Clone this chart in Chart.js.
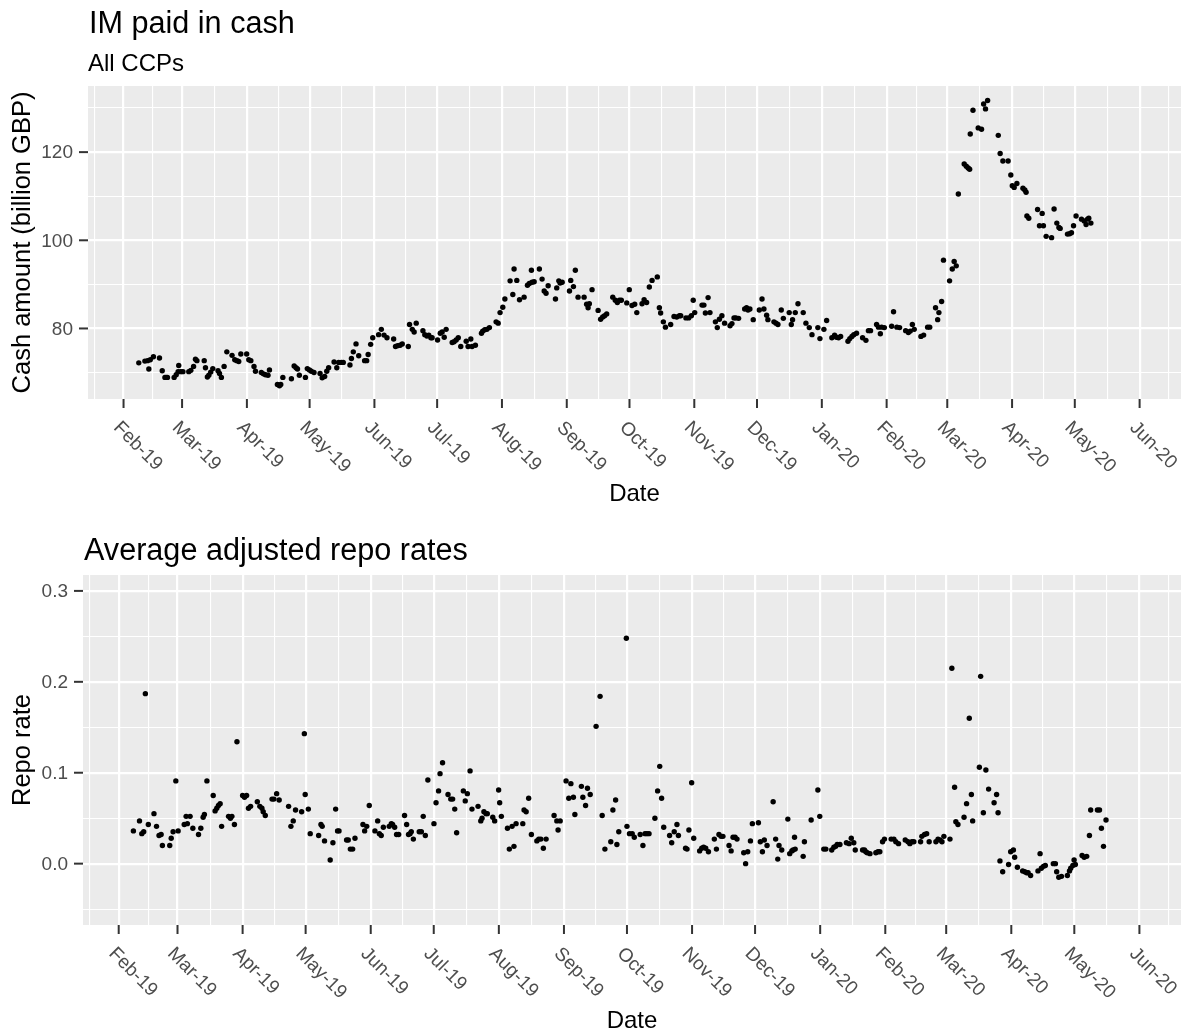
<!DOCTYPE html>
<html>
<head>
<meta charset="utf-8">
<script src="https://cdn.jsdelivr.net/npm/chart.js@4.4.1/dist/chart.umd.min.js"></script>
<style>
  body { margin: 0; background: #fff; }
  #wrap { position: relative; width: 1193px; height: 1034px; }
  canvas { position: absolute; left: 0; }
</style>
</head>
<body>
<div id="wrap">
  <canvas id="cashChart" width="1193" height="517" style="top:0"></canvas>
  <canvas id="repoChart" width="1193" height="517" style="top:517px"></canvas>
</div>
<script>
// month labels on the date axis
var monthLabels = ['Feb-19', 'Mar-19', 'Apr-19', 'May-19', 'Jun-19', 'Jul-19', 'Aug-19', 'Sep-19',
  'Oct-19', 'Nov-19', 'Dec-19', 'Jan-20', 'Feb-20', 'Mar-20', 'Apr-20', 'May-20', 'Jun-20'];

var cashTicks = [80, 100, 120];
var repoTicks = [0.0, 0.1, 0.2, 0.3];

// dates are days counted from 1 Feb 2019
var cashDays = [
  7.3, 10.2, 11.5, 12.1, 12.8, 14.3, 17.2, 18.5, 19.8, 20.4, 21.0, 24.2, 25.2, 26.1, 26.4, 27.4, 28.4, 31.2, 32.2, 33.5,
  34.4, 35.1, 38.6, 39.2, 40.1, 40.8, 41.7, 42.7, 45.2, 45.9, 46.8, 48.1, 49.4, 51.9, 53.2, 54.2, 55.1, 56.1, 58.9, 59.9,
  60.9, 62.4, 63.1, 65.9, 66.9, 67.9, 69.1, 69.8, 73.6, 74.6, 75.2, 76.2, 80.3, 81.6, 82.5, 83.2, 84.1, 87.0, 87.9, 88.9,
  89.8, 91.1, 94.0, 95.0, 96.2, 97.2, 98.1, 100.7, 102.0, 102.9, 104.2, 105.1, 108.3, 109.0, 109.9, 111.2, 112.5, 115.3, 116.3, 117.0,
  118.2, 119.2, 122.0, 123.3, 124.6,
  126.0, 129.2, 130.1, 131.1, 132.3, 133.3, 136.2, 136.8, 138.1, 139.0, 140.0, 143.2, 144.1, 145.1, 146.0, 147.0, 147.6, 150.2, 151.5, 152.4,
  153.4, 154.3, 157.2, 158.1, 159.1, 160.1, 161.3, 163.9, 164.8, 166.1, 166.7, 168.3, 171.2, 171.8, 172.8, 173.8, 175.0, 178.2, 179.2, 180.1,
  181.4, 182.4, 184.9, 186.2, 186.8, 188.1, 189.4, 191.6, 193.2, 194.1, 195.1, 195.4, 196.4, 198.9, 200.2, 201.2, 202.1, 203.1, 206.6, 207.2,
  208.2, 208.8, 209.8, 213.3, 213.9, 215.2, 216.1, 217.4, 220.3, 221.5, 222.2, 222.8, 224.1, 227.0, 228.2, 229.2, 230.1, 231.1, 234.0, 235.2,
  236.2, 237.2, 238.1, 240.7, 241.9,
  243.2, 244.5, 245.5, 248.0, 249.0, 250.2, 251.5, 252.8, 255.3, 256.3, 256.9, 258.2, 259.2, 261.7, 263.3, 264.6, 265.9, 266.5, 269.0, 270.3,
  271.6, 272.5, 273.2, 276.7, 277.6, 278.3, 279.6, 280.5, 283.1, 284.0, 285.0, 286.2, 287.5, 290.1, 291.0, 292.0, 292.9, 294.2, 297.1, 298.0,
  298.7, 299.6, 301.2, 304.1, 305.4, 306.3, 307.6, 308.2, 311.1, 312.1, 313.0, 314.6, 315.6, 318.4, 319.4, 320.0, 321.3, 322.6, 325.1, 326.4,
  328.0, 329.3, 332.1, 333.1, 335.0, 336.3, 338.8, 340.1, 341.0, 342.0, 343.0, 346.5, 347.4, 348.4, 349.3, 350.6, 353.5, 355.1, 356.3, 357.3,
  360.2, 361.1,
  362.0, 362.6, 363.9, 367.4, 368.3, 369.9, 371.2, 374.1, 375.4, 376.3, 377.3, 378.2, 381.4, 382.7, 384.6, 385.6, 388.4, 389.4, 390.0, 391.3,
  392.2, 395.1, 396.4, 397.3, 398.3, 399.3, 402.1, 403.1, 404.0, 404.7, 405.0, 406.3, 408.8, 410.4, 411.4, 412.3, 413.3, 418.4, 419.3, 420.6,
  423.1, 424.4, 425.1, 426.0, 427.3, 430.2, 431.1, 431.7, 432.1, 433.0, 437.2, 438.1, 439.4, 440.0, 441.3, 443.9, 445.1, 446.4, 447.4, 448.0,
  451.5, 452.5, 453.4, 454.4, 455.6, 458.2, 459.5, 460.4, 461.1, 461.7, 462.7
];
var cashValues = [
  72.2, 72.6, 72.7, 70.8, 72.9, 73.6, 73.3, 70.4, 68.9, 68.9, 68.9, 68.9, 69.5, 70.2, 71.6, 70.2, 70.2, 70.2, 70.5, 71.4,
  73.0, 72.7, 72.7, 71.1, 69.0, 69.4, 70.1, 70.9, 70.4, 69.8, 68.9, 71.4, 74.7, 73.9, 72.9, 72.7, 72.5, 74.2, 74.2, 72.9,
  72.7, 71.4, 70.3, 70.0, 69.7, 69.5, 69.4, 70.6, 67.3, 67.0, 67.3, 68.9, 68.6, 71.5, 71.1, 70.8, 69.4, 68.9, 70.9, 70.6,
  70.3, 70.0, 69.8, 68.8, 69.1, 70.3, 71.1, 72.4, 71.1, 72.3, 72.3, 72.3, 71.7, 73.2, 74.7, 76.5, 73.8, 72.7, 72.7, 74.1,
  76.4, 77.9, 78.6, 79.8, 78.5,
  77.9, 77.6, 75.9, 76.1, 76.2, 76.5, 75.9, 80.9, 79.8, 79.2, 81.2, 79.5, 78.6, 78.3, 78.5, 77.9, 77.9, 77.4, 78.9, 79.2,
  78.0, 79.8, 76.8, 77.0, 77.4, 77.9, 75.9, 77.1, 75.9, 77.6, 75.9, 76.2, 78.9, 79.4, 79.7, 79.8, 80.2, 81.5, 81.2, 83.6,
  84.8, 86.7, 90.8, 87.7, 93.5, 90.9, 86.5, 87.1, 89.8, 90.2, 93.2, 90.5, 90.6, 93.5, 91.2, 88.5, 88.0, 89.7, 86.7, 89.2,
  90.8, 90.3, 90.5, 88.5, 90.9, 89.5, 93.2, 87.1, 87.1, 85.5, 84.7, 85.6, 88.8, 84.1, 82.1, 82.6, 82.9, 83.3, 87.1, 86.4,
  85.9, 86.4, 86.4, 85.8, 88.8,
  85.2, 85.5, 83.6, 85.6, 86.5, 85.9, 89.4, 90.9, 91.7, 84.7, 83.5, 81.5, 80.3, 80.9, 82.7, 82.6, 82.9, 82.9, 82.4, 82.4,
  82.9, 86.4, 83.6, 85.3, 85.3, 83.5, 87.0, 83.6, 81.5, 80.2, 82.1, 82.9, 81.2, 80.6, 81.1, 82.4, 82.4, 82.3, 84.4, 84.7,
  84.2, 84.4, 82.0, 84.2, 86.7, 84.4, 83.0, 82.0, 81.5, 81.2, 80.9, 84.2, 82.3, 83.6, 80.9, 82.0, 83.6, 85.6, 83.6, 81.2,
  80.2, 78.6, 80.2, 77.7, 79.8, 81.8, 77.9, 78.5, 78.0, 77.9, 78.2, 77.1, 77.7, 78.2, 78.6, 78.9, 77.9, 77.3, 79.5, 79.5,
  80.9, 80.3,
  78.8, 80.3, 80.2, 80.5, 83.8, 80.3, 80.2, 79.5, 79.1, 79.4, 80.9, 79.8, 78.2, 78.5, 80.3, 80.3, 84.7, 82.0, 83.6, 86.1,
  95.5, 90.8, 93.5, 95.2, 94.2, 110.5, 117.3, 116.8, 116.4, 116.1, 124.1, 129.5, 125.5, 125.2, 130.9, 129.8, 131.7, 123.8, 119.7, 118.0,
  118.0, 114.8, 112.4, 112.0, 112.9, 111.8, 111.4, 110.9, 105.5, 105.0, 107.0, 103.3, 106.1, 103.3, 100.9, 100.6, 107.1, 103.9, 102.9, 102.7,
  101.4, 101.5, 101.7, 103.3, 105.5, 104.8, 104.4, 103.6, 104.8, 105.0, 103.9
];

var repoDays = [
  7.0, 9.9, 11.0, 11.9, 12.7, 14.1, 16.8, 18.0, 19.2, 20.2, 20.8, 24.3, 25.0, 25.9, 27.2, 28.3, 31.2, 32.1, 32.7, 34.0,
  35.3, 38.0, 39.1, 40.2, 40.8, 42.0, 45.0, 45.9, 46.7, 47.5, 48.3, 49.0, 52.3, 53.2, 53.9, 55.1, 56.3, 59.0, 59.9, 60.9,
  61.8, 62.8, 66.0, 67.2, 68.2, 68.8, 69.8, 73.0, 73.9, 75.2, 76.4, 80.9, 82.0, 83.1, 84.2, 87.1, 88.4, 88.8, 90.3, 91.2,
  95.2, 96.3, 96.9, 98.0, 100.7, 102.0, 103.3, 104.2, 104.9, 108.5, 109.3, 110.3, 111.4, 112.5, 116.3, 117.1, 118.1, 119.3, 122.0, 123.3,
  124.1,
  125.0, 126.0, 128.8, 129.8, 130.4, 131.4, 132.3, 133.3, 136.1, 137.1, 138.0, 138.7, 139.3, 140.3, 143.1, 144.1, 145.0, 146.0, 147.2, 150.1,
  151.1, 152.3, 153.0, 154.2, 156.8, 158.1, 159.0, 160.0, 160.9, 164.1, 165.0, 166.0, 167.3, 168.2, 171.1, 172.4, 173.0, 173.9, 174.9, 175.5,
  178.1, 179.0, 180.9, 181.4, 182.2, 185.1, 186.0, 187.3, 188.2, 189.2, 192.4, 193.0, 194.0, 195.2, 196.5, 199.1, 200.0, 201.0, 202.2, 203.5,
  207.3, 208.6, 209.2, 210.2, 213.0, 214.3, 215.3, 216.5, 217.2, 220.3, 221.0, 222.3, 223.2, 224.5, 227.3, 229.2, 230.2, 231.5, 234.3, 235.3,
  236.6, 237.2, 238.1, 241.7, 242.0, 243.2,
  244.5, 245.5, 248.3, 249.6, 250.6, 251.5, 252.5, 255.3, 256.6, 257.6, 258.5, 259.5, 262.3, 263.3, 264.5, 265.8, 266.5, 269.9, 270.6, 271.5,
  272.8, 273.8, 276.6, 277.6, 278.5, 279.5, 280.8, 283.6, 284.6, 285.8, 286.8, 287.7, 290.6, 291.6, 292.5, 293.5, 294.4, 297.6, 298.5, 299.5,
  300.8, 301.7, 304.6, 305.5,
  306.5, 307.4, 308.7, 311.6, 312.8, 313.8, 314.4, 315.7, 318.6, 319.5, 320.5, 321.1, 321.8, 322.1, 325.9, 326.5, 329.7, 332.9, 333.8, 335.7,
  336.7, 339.5, 340.5, 341.4, 342.1, 343.4, 346.5, 347.8, 348.8, 350.0, 350.7, 354.2, 355.1, 355.7, 356.4, 357.7, 360.5, 361.5, 362.4, 363.7,
  364.6, 367.8, 369.1, 370.0, 371.3, 374.5, 375.8, 376.7, 377.7, 378.6, 381.8, 382.4, 383.7, 384.7, 385.9, 389.1, 390.1, 391.0,
  392.0, 392.9, 395.8, 396.7, 398.0, 398.6, 399.6, 402.5, 403.7, 405.0, 406.0, 406.6, 409.8, 410.4, 411.7, 412.9, 414.2, 416.8, 418.0, 418.7,
  419.6, 420.9, 423.7, 424.7, 426.0, 426.6, 427.9, 430.4, 431.4, 432.3, 433.0, 434.2, 437.7, 438.7, 439.3, 440.3, 441.2, 445.0, 446.0, 446.6,
  447.6, 448.9, 451.7, 452.7, 453.3, 454.3, 454.9, 455.5, 458.7, 459.7, 460.9, 462.2, 462.8, 466.0, 467.0, 467.9, 468.9, 470.1
];
var repoValues = [
  0.036, 0.047, 0.033, 0.035, 0.187, 0.043, 0.055, 0.041, 0.031, 0.032, 0.020, 0.020, 0.028, 0.035, 0.091, 0.036, 0.043, 0.052, 0.044, 0.052,
  0.039, 0.032, 0.039, 0.051, 0.054, 0.091, 0.075, 0.058, 0.061, 0.064, 0.066, 0.041, 0.052, 0.050, 0.052, 0.043, 0.134, 0.075, 0.073, 0.075,
  0.061, 0.063, 0.068, 0.063, 0.061, 0.057, 0.053, 0.071, 0.071, 0.077, 0.070, 0.063, 0.041, 0.047, 0.059, 0.057, 0.143, 0.076, 0.060, 0.033,
  0.031, 0.043, 0.041, 0.025, 0.004, 0.023, 0.060, 0.036, 0.036, 0.026, 0.026, 0.016, 0.016, 0.028, 0.043, 0.036, 0.041, 0.064, 0.036, 0.047,
  0.033,
  0.031, 0.040, 0.041, 0.044, 0.043, 0.040, 0.032, 0.032, 0.053, 0.043, 0.032, 0.033, 0.035, 0.027, 0.035, 0.035, 0.052, 0.031, 0.092, 0.044,
  0.067, 0.080, 0.099, 0.111, 0.076, 0.071, 0.071, 0.060, 0.034, 0.080, 0.069, 0.077, 0.102, 0.060, 0.063, 0.047, 0.050, 0.057, 0.055, 0.055,
  0.051, 0.047, 0.081, 0.067, 0.052, 0.039, 0.016, 0.041, 0.019, 0.044, 0.044, 0.059, 0.057, 0.072, 0.032, 0.025, 0.027, 0.027, 0.017, 0.027,
  0.053, 0.047, 0.037, 0.047, 0.091, 0.072, 0.088, 0.073, 0.054, 0.085, 0.073, 0.064, 0.083, 0.076, 0.151, 0.184, 0.053, 0.016, 0.024, 0.059,
  0.070, 0.021, 0.035, 0.248, 0.041, 0.033,
  0.033, 0.029, 0.032, 0.020, 0.033, 0.033, 0.033, 0.050, 0.080, 0.107, 0.072, 0.040, 0.031, 0.023, 0.035, 0.043, 0.031, 0.017, 0.016, 0.037,
  0.089, 0.028, 0.014, 0.017, 0.018, 0.017, 0.013, 0.027, 0.016, 0.032, 0.030, 0.030, 0.020, 0.014, 0.029, 0.029, 0.027, 0.012, 0.000, 0.013,
  0.025, 0.044, 0.045, 0.024,
  0.013, 0.026, 0.020, 0.068, 0.027, 0.005, 0.020, 0.015, 0.049, 0.011, 0.014, 0.015, 0.029, 0.016, 0.008, 0.024, 0.048, 0.081, 0.052, 0.016,
  0.016, 0.015, 0.018, 0.019, 0.021, 0.021, 0.023, 0.022, 0.028, 0.023, 0.015, 0.015, 0.015, 0.013, 0.012, 0.011, 0.012, 0.013, 0.013, 0.024,
  0.027, 0.027, 0.027, 0.024, 0.022, 0.026, 0.024, 0.022, 0.024, 0.024, 0.024, 0.030, 0.032, 0.033, 0.024, 0.024, 0.027, 0.026,
  0.024, 0.030, 0.027, 0.215, 0.084, 0.046, 0.043, 0.051, 0.066, 0.160, 0.076, 0.047, 0.106, 0.206, 0.056, 0.103, 0.082, 0.067, 0.076, 0.056,
  0.003, -0.009, -0.001, 0.013, 0.015, 0.007, -0.004, -0.008, -0.009, -0.010, -0.010, -0.013, -0.008, 0.011, -0.005, -0.003, -0.002, 0.000, 0.000, -0.009,
  -0.015, -0.014, -0.013, -0.008, -0.005, -0.002, 0.004, -0.001, 0.009, 0.007, 0.008, 0.031, 0.059, 0.059, 0.059, 0.039, 0.019, 0.048
];

var FONT = '"Liberation Sans", Arial, sans-serif';
var DAY = 86400000;
var monthDays = monthLabels.map(function (l, i) {
  return (Date.UTC(2019, 1 + i, 1) - Date.UTC(2019, 1, 1)) / DAY;
});

// ggplot style minor breaks: half way between the major ones
function minorsOf(b) {
  var bd = b[1] - b[0];
  var ext = [b[0] - bd].concat(b, [b[b.length - 1] + bd]);
  var out = [];
  for (var i = 0; i < ext.length - 1; i++) out.push((ext[i] + ext[i + 1]) / 2);
  return out;
}

function axisOpts(min, max, majors) {
  var list = majors.map(function (v) { return { value: v, minor: false }; })
    .concat(minorsOf(majors).map(function (v) { return { value: v, minor: true }; }))
    .filter(function (t) { return t.value >= min && t.value <= max; })
    .sort(function (p, q) { return p.value - q.value; });
  return {
    type: 'linear', min: min, max: max,
    border: { display: false },
    ticks: { display: false },
    grid: {
      drawTicks: false,
      color: '#FFFFFF',
      lineWidth: function (c) { return (c.tick && c.tick.minor) ? 1.1 : 2.2; }
    },
    afterBuildTicks: function (axis) {
      axis.ticks = list.map(function (t) { return { value: t.value, minor: t.minor }; });
    }
  };
}

var ggPlugin = {
  id: 'gg',
  beforeDraw: function (chart) {
    var a = chart.chartArea, ctx = chart.ctx;
    ctx.save();
    ctx.fillStyle = '#EBEBEB';
    ctx.fillRect(a.left, a.top, a.right - a.left, a.bottom - a.top);
    ctx.restore();
  },
  afterDraw: function (chart, args, o) {
    var ctx = chart.ctx, a = chart.chartArea;
    var xs = chart.scales.x, ys = chart.scales.y;
    ctx.save();
    ctx.strokeStyle = '#333333';
    ctx.lineWidth = 2;
    ctx.fillStyle = '#4D4D4D';
    ctx.font = '19px ' + FONT;

    // y ticks
    ctx.textAlign = 'right';
    ctx.textBaseline = 'middle';
    o.yTicks.forEach(function (v) {
      var y = ys.getPixelForValue(v);
      ctx.beginPath(); ctx.moveTo(a.left - 9, y); ctx.lineTo(a.left, y); ctx.stroke();
      ctx.fillText(o.yFmt(v), a.left - 15, y + 1);
    });

    // x ticks, labels turned down to the right
    ctx.textAlign = 'left';
    ctx.textBaseline = 'alphabetic';
    monthDays.forEach(function (d, i) {
      var x = xs.getPixelForValue(d);
      ctx.beginPath(); ctx.moveTo(x, a.bottom); ctx.lineTo(x, a.bottom + 9); ctx.stroke();
      ctx.save();
      ctx.translate(x - 10.7, a.bottom + 29.6);
      ctx.rotate(Math.PI / 4);
      ctx.fillText(monthLabels[i], 0, 0);
      ctx.restore();
    });

    // titles
    ctx.fillStyle = '#000000';
    ctx.font = '30.6px ' + FONT;
    ctx.fillText(o.title, a.left + 1, o.titleY);
    if (o.subtitle) {
      ctx.font = '24px ' + FONT;
      ctx.fillText(o.subtitle, a.left, o.subtitleY);
    }
    ctx.font = '24px ' + FONT;
    ctx.textAlign = 'center';
    ctx.fillText('Date', (a.left + a.right) / 2, o.xTitleY);
    ctx.font = '25.5px ' + FONT;
    ctx.save();
    ctx.translate(o.yTitleX, (a.top + a.bottom) / 2);
    ctx.rotate(-Math.PI / 2);
    ctx.fillText(o.yTitle, 0, 0);
    ctx.restore();
    ctx.restore();
  }
};

function buildChart(id, days, values, cfg) {
  return new Chart(document.getElementById(id), {
    type: 'scatter',
    data: {
      datasets: [{
        data: days.map(function (d, i) { return { x: d, y: values[i] }; }),
        pointRadius: 2.7,
        pointHoverRadius: 2.7,
        backgroundColor: '#000000',
        borderColor: '#000000',
        borderWidth: 0
      }]
    },
    options: {
      responsive: false,
      animation: false,
      events: [],
      layout: { padding: cfg.pad },
      plugins: { legend: { display: false }, tooltip: { enabled: false }, gg: cfg },
      scales: {
        x: axisOpts(-17, 505.8, monthDays),
        y: axisOpts(cfg.yMin, cfg.yMax, cfg.yTicks)
      }
    },
    plugins: [ggPlugin]
  });
}

buildChart('cashChart', cashDays, cashValues, {
  pad: { left: 88, top: 86, right: 12, bottom: 118 },
  yMin: 64.0, yMax: 135.0, yTicks: cashTicks,
  yFmt: function (v) { return String(v); },
  title: 'IM paid in cash', titleY: 33,
  subtitle: 'All CCPs', subtitleY: 70.5,
  yTitle: 'Cash amount (billion GBP)', yTitleX: 30,
  xTitleY: 501
});

buildChart('repoChart', repoDays, repoValues, {
  pad: { left: 83, top: 58, right: 12, bottom: 109 },
  yMin: -0.0675, yMax: 0.3175, yTicks: repoTicks,
  yFmt: function (v) { return v.toFixed(1); },
  title: 'Average adjusted repo rates', titleY: 42.5,
  yTitle: 'Repo rate', yTitleX: 30,
  xTitleY: 511
});
</script>
</body>
</html>
